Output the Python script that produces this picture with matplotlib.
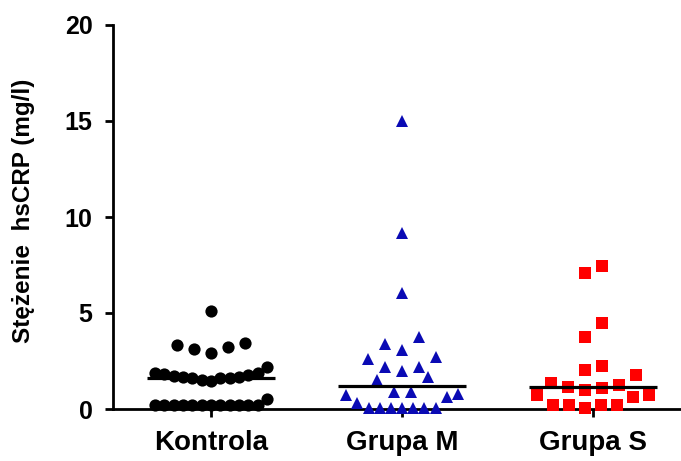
import matplotlib
matplotlib.use("Agg")
import matplotlib.pyplot as plt
import numpy as np

plt.rcParams["font.family"] = ["Liberation Sans", "DejaVu Sans"]
plt.rcParams["font.weight"] = "bold"

# hsCRP concentrations (mg/l) per group
groups = ["Kontrola", "Grupa M", "Grupa S"]

kontrola = [5.1,
            3.42, 3.21, 2.93, 3.12, 3.33,
            2.2, 1.85, 1.85, 1.8, 1.75, 1.7, 1.65, 1.65, 1.6, 1.6, 1.6, 1.5, 1.45,
            0.5, 0.2, 0.2, 0.2, 0.2, 0.2, 0.2, 0.2, 0.2, 0.2, 0.2, 0.2, 0.2]

grupa_m = [15.0, 9.15, 6.06,
           3.73, 3.39, 3.07,
           2.69, 2.62, 2.2, 2.17, 2.0,
           1.68, 1.51, 0.9, 0.9,
           0.78, 0.73, 0.64, 0.3, 0.05, 0.05, 0.05, 0.05, 0.05, 0.05, 0.05]

grupa_s = [7.45, 7.07,
           4.5, 3.77,
           2.24, 2.03,
           1.77, 1.34, 1.25, 1.16, 1.11, 0.99,
           0.73, 0.73, 0.64, 0.21, 0.21, 0.21, 0.21, 0.04]

series = [kontrola, grupa_m, grupa_s]
markers = ["o", "^", "s"]
colors = ["black", "#0a0ab4", "#ff0000"]


def row_offsets(values, gap=0.82, step=0.089, max_width=0.585):
    """Column-scatter layout: stack close values into one row, fill rows from the centre out."""
    values = np.asarray(values, dtype=float)
    order = np.argsort(values, kind="stable")
    rows = []
    for i in order:
        if rows and values[i] - values[rows[-1][0]] < gap:
            rows[-1].append(i)
        else:
            rows.append([i])
    offsets = np.zeros(len(values))
    for row in rows:
        n = len(row)
        s = step if (n - 1) * step <= max_width else max_width / (n - 1)
        slots = (np.arange(n) - (n - 1) / 2) * s
        mid = (n - 1) / 2
        fill = sorted(range(n), key=lambda k: (abs(k - mid), k))
        for idx, k in zip(row, fill):
            offsets[idx] = slots[k]
    return offsets


fig = plt.figure(figsize=(6.81, 4.61), dpi=100)
ax = fig.add_axes([113 / 681, 52 / 461, 568 / 681, 384 / 461])

for pos, (vals, mk, col) in enumerate(zip(series, markers, colors)):
    x = pos + row_offsets(vals)
    ax.plot(x, vals, linestyle="none", marker=mk, markersize=8.8,
            color=col, markeredgewidth=0, clip_on=False, zorder=3)
    med = np.median(vals)
    ax.plot([pos - 0.335, pos + 0.335], [med, med], color="black",
            linewidth=2.3, solid_capstyle="butt", zorder=4, clip_on=False)

ax.set_xlim(-0.513, 2.46)
ax.set_ylim(0, 20)
ax.set_yticks([0, 5, 10, 15, 20])
ax.set_xticks(range(len(groups)))
ax.set_xticklabels(groups, fontsize=20, fontweight="bold")

for lbl in ax.get_yticklabels():
    lbl.set_fontsize(18)
    lbl.set_fontweight("bold")

ax.tick_params(axis="both", direction="out", length=5.8, width=2, color="black")
ax.tick_params(axis="y", pad=9)
ax.tick_params(axis="x", pad=9)

for side in ["top", "right"]:
    ax.spines[side].set_visible(False)
for side in ["left", "bottom"]:
    ax.spines[side].set_linewidth(2)

ax.set_ylabel("Stężenie  hsCRP (mg/l)", fontsize=17.5, fontweight="bold")
ax.yaxis.set_label_coords(-0.137, 0.516)

fig.savefig("out.png", dpi=100)
